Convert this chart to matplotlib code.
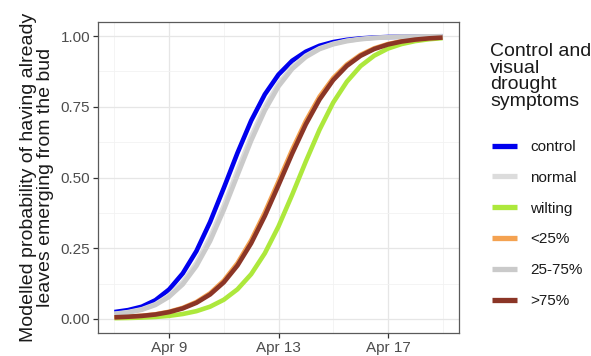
import matplotlib
matplotlib.use("Agg")
import matplotlib.pyplot as plt
import matplotlib.dates as mdates
import pandas as pd

plt.rcParams['font.family'] = ['Liberation Sans', 'DejaVu Sans']

# Dates: Apr 7 to Apr 19, every half day
dates = pd.date_range('2022-04-07', '2022-04-19', freq='12h')

groups = ['control', 'normal', 'wilting', '<25%', '25-75%', '>75%']
colors = ['#0000EE', '#DCDCDC', '#ADE83C', '#F4A251', '#CACACA', '#8B3526']

control = [0.024, 0.031, 0.043, 0.066, 0.104, 0.161, 0.240, 0.343, 0.463, 0.587,
           0.701, 0.794, 0.864, 0.913, 0.945, 0.966, 0.979, 0.987, 0.992, 0.995,
           0.997, 0.998, 0.999, 0.9993, 0.9996]
normal = [0.018, 0.024, 0.034, 0.052, 0.083, 0.130, 0.198, 0.289, 0.401, 0.525,
          0.646, 0.750, 0.832, 0.891, 0.931, 0.957, 0.973, 0.984, 0.990, 0.994,
          0.996, 0.998, 0.9986, 0.9992, 0.9995]
wilting = [0.0025, 0.0032, 0.0045, 0.0067, 0.0107, 0.0172, 0.0273, 0.0432, 0.0677, 0.1046,
           0.158, 0.232, 0.327, 0.439, 0.557, 0.669, 0.765, 0.839, 0.894, 0.931,
           0.956, 0.972, 0.9825, 0.989, 0.993]
lt25 = [0.0058, 0.0079, 0.011, 0.0162, 0.0252, 0.0389, 0.0598, 0.0907, 0.1353, 0.1971,
        0.278, 0.3765, 0.4865, 0.598, 0.700, 0.786, 0.852, 0.900, 0.934, 0.957,
        0.972, 0.982, 0.988, 0.993, 0.995]
mid = [0.017, 0.022, 0.032, 0.049, 0.078, 0.122, 0.187, 0.275, 0.385, 0.508,
       0.630, 0.737, 0.822, 0.884, 0.926, 0.954, 0.971, 0.982, 0.989, 0.993,
       0.996, 0.9975, 0.998, 0.999, 0.9995]
gt75 = [0.0055, 0.0075, 0.0105, 0.0154, 0.0239, 0.0370, 0.0569, 0.0864, 0.1292, 0.1888,
        0.2674, 0.3640, 0.4730, 0.5847, 0.6883, 0.7759, 0.8445, 0.8949, 0.9304, 0.9545,
        0.9704, 0.9810, 0.9878, 0.9922, 0.9950]
series = [control, normal, wilting, lt25, mid, gt75]

yticks = [0.00, 0.25, 0.50, 0.75, 1.00]
xticks = ['2022-04-09', '2022-04-13', '2022-04-17']
xminor = ['2022-04-07', '2022-04-11', '2022-04-15', '2022-04-19']

fig = plt.figure(figsize=(5.91, 3.56), dpi=100)
ax = fig.add_axes([98/591, 1-333/356, (459-98)/591, (333-22)/356])

for g, c, vals in zip(groups, colors, series):
    ax.plot(dates, vals, color=c, lw=3.3, label=g, solid_capstyle='butt',
            solid_joinstyle='round')

ax.set_xlim(pd.Timestamp('2022-04-06 09:36'), pd.Timestamp('2022-04-19 14:24'))
ax.set_ylim(-0.05, 1.05)
ax.set_xticks(pd.to_datetime(xticks))
ax.set_xticks(pd.to_datetime(xminor), minor=True)
ax.xaxis.set_major_formatter(mdates.DateFormatter('%b %-d'))
ax.set_yticks(yticks)
ax.set_yticklabels(['%.2f' % v for v in yticks])
ax.set_yticks([0.125, 0.375, 0.625, 0.875], minor=True)

ax.grid(which='major', color='#E6E6E6', lw=0.9)
ax.grid(which='minor', color='#F2F2F2', lw=0.6)
ax.set_axisbelow(True)
for s in ax.spines.values():
    s.set_color('#5A5A5A')
    s.set_linewidth(0.9)
ax.tick_params(which='major', length=3.5, width=0.9, color='#333333',
               labelsize=11, labelcolor='#4D4D4D', pad=2)
ax.tick_params(which='minor', length=0)

ax.set_ylabel('Modelled probability of having already\nleaves emerging from the bud',
              fontsize=14, color='#1A1A1A', linespacing=1.0, labelpad=5)

# legend title as figure text
fig.text(490/591, 1-43/356, 'Control and\nvisual\ndrought\nsymptoms', fontsize=14,
         color='#1A1A1A', ha='left', va='top', linespacing=0.97)

handles, labels = ax.get_legend_handles_labels()
leg = fig.legend(handles, labels, loc='upper left', bbox_to_anchor=(492/591, 1-140/356),
                 frameon=False, fontsize=11, handlelength=1.65,
                 handletextpad=0.85, labelspacing=1.1, borderpad=0, borderaxespad=0)
for line in leg.get_lines():
    line.set_linewidth(3.8)
for t in leg.get_texts():
    t.set_color('#1A1A1A')

fig.savefig('out.png', dpi=100)
